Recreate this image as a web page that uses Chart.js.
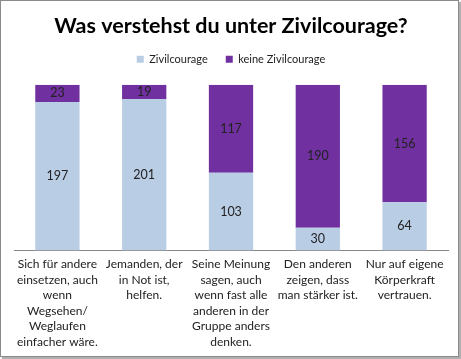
<!DOCTYPE html>
<html lang="de">
<head>
<meta charset="UTF-8">
<title>Zivilcourage</title>
<script src="https://cdn.jsdelivr.net/npm/chart.js"></script>
<style>
    body { margin: 0; background: #fff; }
    .rahmen {
        position: absolute; left: 0; top: 0;
        width: 457px; height: 355px;
        border: 1px solid #8a8a8a;
        box-shadow: 2px 2px 1px #b0b0b0;
        background: #fff;
    }
</style>
</head>
<body>
<div class="rahmen">
    <canvas id="grafik" width="457" height="355"></canvas>
</div>
<script>
    const kategorien = [
        ["Sich für andere", "einsetzen, auch", "wenn", "Wegsehen/", "Weglaufen", "einfacher wäre."],
        ["Jemanden, der", "in Not ist,", "helfen."],
        ["Seine Meinung", "sagen, auch", "wenn fast alle", "anderen in der", "Gruppe anders", "denken."],
        ["Den anderen", "zeigen, dass", "man stärker ist."],
        ["Nur auf eigene", "Körperkraft", "vertrauen."]
    ];
    const zivilcourage = [197, 201, 103, 30, 64];
    const keineZivilcourage = [23, 19, 117, 190, 156];

    const schrift = "Lato, 'Open Sans', sans-serif";

    // Werte mittig in die Balken schreiben
    const wertePlugin = {
        id: 'werte',
        afterDatasetsDraw(chart) {
            const ctx = chart.ctx;
            ctx.save();
            ctx.font = "12.5px " + schrift;
            ctx.fillStyle = "#222";
            ctx.textAlign = "center";
            ctx.textBaseline = "middle";
            chart.data.datasets.forEach((ds, i) => {
                chart.getDatasetMeta(i).data.forEach((bar, j) => {
                    ctx.fillText(ds.data[j], bar.x, (bar.y + bar.base) / 2);
                });
            });
            ctx.restore();
        }
    };

    // etwas mehr Abstand unter der Legende
    const legendenAbstand = {
        id: 'legendenAbstand',
        beforeInit(chart) {
            const fit = chart.legend.fit;
            chart.legend.fit = function () {
                fit.bind(chart.legend)();
                this.height += 10;
            };
        }
    };

    new Chart(document.getElementById('grafik'), {
        type: 'bar',
        data: {
            labels: kategorien,
            datasets: [
                { label: 'Zivilcourage', data: zivilcourage, backgroundColor: '#B9CDE5' },
                { label: 'keine Zivilcourage', data: keineZivilcourage, backgroundColor: '#7030A0' }
            ]
        },
        options: {
            responsive: false,
            animation: false,
            layout: { padding: { left: 13, right: 10, top: 10, bottom: 0 } },
            datasets: { bar: { categoryPercentage: 1, barPercentage: 0.51 } },
            plugins: {
                title: {
                    display: true,
                    text: 'Was verstehst du unter Zivilcourage?',
                    color: '#000',
                    font: { family: schrift, size: 21.5, weight: 'bold' },
                    padding: { top: 2, bottom: -3 }
                },
                legend: {
                    labels: {
                        boxWidth: 7, boxHeight: 7,
                        color: '#222',
                        font: { family: schrift, size: 11 },
                        padding: 18
                    }
                },
                tooltip: { enabled: false }
            },
            scales: {
                x: {
                    stacked: true,
                    grid: { display: false, drawTicks: false },
                    border: { color: '#888' },
                    ticks: {
                        color: '#222',
                        maxRotation: 0,
                        autoSkip: false,
                        padding: 6,
                        font: { family: schrift, size: 12, lineHeight: 1.3 }
                    }
                },
                y: {
                    stacked: true,
                    display: false,
                    min: 0,
                    max: 220
                }
            }
        },
        plugins: [wertePlugin, legendenAbstand]
    });
</script>
</body>
</html>
